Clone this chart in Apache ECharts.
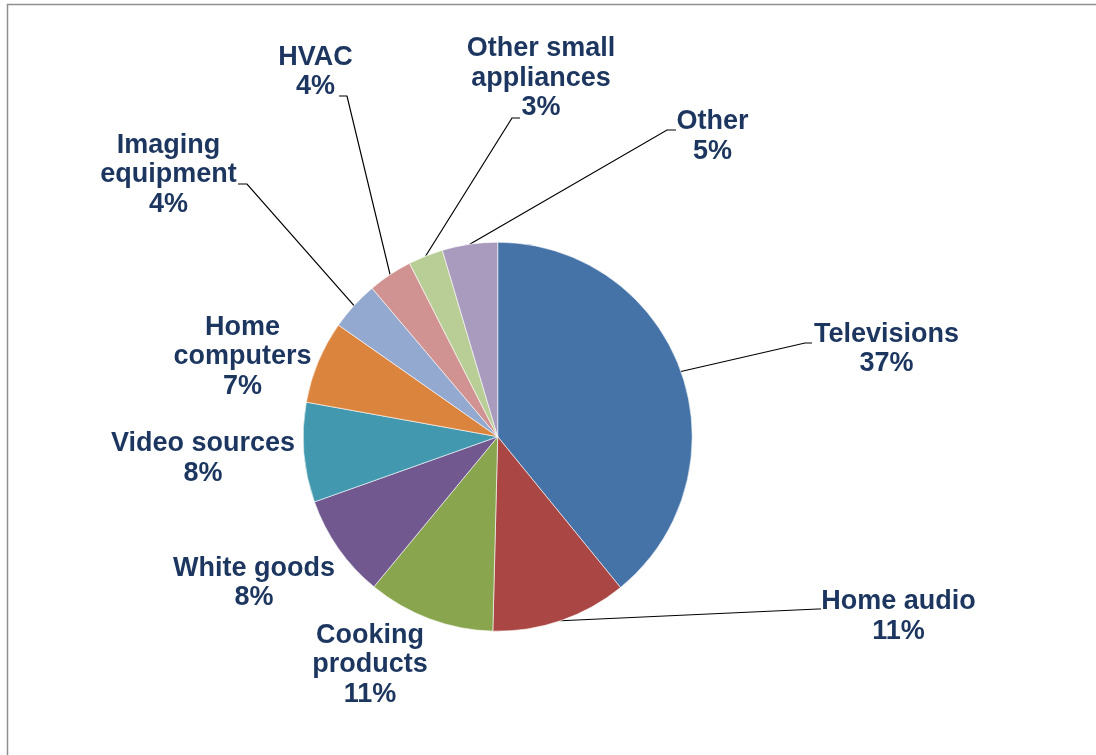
<!DOCTYPE html>
<html><head><meta charset="utf-8">
<script src="https://cdn.jsdelivr.net/npm/echarts@6/dist/echarts.min.js"></script>
<style>html,body{margin:0;padding:0;background:#fff}#c{width:1096px;height:755px}</style>
</head><body><div id="c"></div>
<script>
// ---- data ----
const categories = ['Televisions', 'Home audio', 'Cooking products', 'White goods', 'Video sources',
  'Home computers', 'Imaging equipment', 'HVAC', 'Other small appliances', 'Other'];
const shares = [39.2, 11.3, 10.6, 8.6, 8.3, 6.9, 4.1, 3.7, 2.9, 4.6];
const pctLabels = ['37%', '11%', '11%', '8%', '8%', '7%', '4%', '4%', '3%', '5%'];

// ---- presentation ----
const labelText = ['Televisions', 'Home audio', 'Cooking\nproducts', 'White goods', 'Video sources',
  'Home\ncomputers', 'Imaging\nequipment', 'HVAC', 'Other small\nappliances', 'Other'];
const colors = ['#4572A7', '#AA4643', '#89A54E', '#71588F', '#4198AF',
  '#DB843D', '#93A9CF', '#D19392', '#B9CD96', '#A99BBD'];
const labelCenters = [[886.5, 349], [898.5, 616.5], [370, 665], [254, 583], [203, 458.5],
  [242.5, 357], [168.5, 175], [315.5, 72], [541, 78.5], [712.5, 136.5]];
const leaderEnds = [[[805, 343], [812, 343]], [[818, 609], [821, 609]], null, null, null, null,
  [[247, 184], [238, 184]], [[347, 96], [339, 96]], [[512, 118], [520, 118]], [[667, 130], [676, 130]]];

const chart = echarts.init(document.getElementById('c'), null, {renderer: 'canvas'});
chart.setOption({
  animation: false,
  backgroundColor: '#fff',
  graphic: [{
    type: 'rect', silent: true,
    shape: {x: 7.5, y: 4.5, width: 2000, height: 2000},
    style: {fill: 'none', stroke: '#8f8f8f', lineWidth: 1.5}
  }],
  series: [{
    type: 'pie',
    center: [497.7, 436.7],
    radius: 194.5,
    startAngle: 90,
    clockwise: true,
    avoidLabelOverlap: false,
    itemStyle: {borderColor: '#ffffff', borderWidth: 0.6},
    label: {
      show: true,
      position: 'outside',
      fontFamily: 'Liberation Sans, Arial, sans-serif',
      fontWeight: 'bold',
      fontSize: 27,
      lineHeight: 29.5,
      color: '#1C365F',
      align: 'center',
      formatter: p => labelText[p.dataIndex] + '\n' + pctLabels[p.dataIndex]
    },
    labelLine: {show: true, lineStyle: {color: '#000', width: 1.2}},
    labelLayout: function (params) {
      const i = params.dataIndex;
      const out = {x: labelCenters[i][0], y: labelCenters[i][1], align: 'center', verticalAlign: 'middle'};
      const e = leaderEnds[i];
      if (e && params.labelLinePoints) {
        out.labelLinePoints = [params.labelLinePoints[0], e[0], e[1]];
      }
      return out;
    },
    data: categories.map((n, i) => ({
      name: n,
      value: shares[i],
      itemStyle: {color: colors[i]},
      labelLine: {show: !!leaderEnds[i]}
    }))
  }]
});
</script></body></html>
